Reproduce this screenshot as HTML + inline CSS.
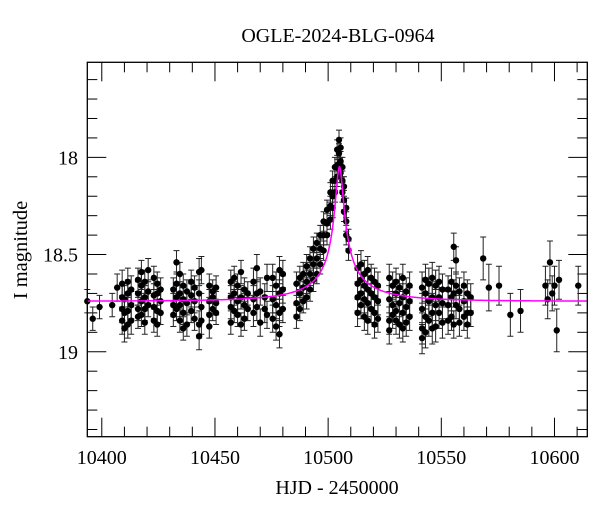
<!DOCTYPE html>
<html><head><meta charset="utf-8"><style>
html,body{margin:0;padding:0;background:#fff;}
svg{display:block;font-family:"Liberation Serif",serif;}
</style></head><body>
<svg id="chart" width="600" height="512" viewBox="0 0 600 512" xmlns="http://www.w3.org/2000/svg">
<text x="338" y="42" text-anchor="middle" font-size="20">OGLE-2024-BLG-0964</text>
<text x="337" y="494" text-anchor="middle" font-size="20">HJD - 2450000</text>
<text transform="translate(27,250) rotate(-90)" text-anchor="middle" font-size="20.5">I magnitude</text>
<g id="axes"></g>
<g id="errs"></g>
<g id="pts"></g>
<g id="model"></g>
<rect x="87.3" y="62.3" width="500" height="374.4" fill="none" stroke="#000" stroke-width="1.3"/>
</svg>
<script>
const xTicks=[10400,10450,10500,10550,10600];
const yTicks=[18,18.5,19];
const yTickLabels=["18","18.5","19"];
const epochs=[10393.6,10396,10399,10404.6,10406.8,10409,10410,10411.5,10413,10416,10417.5,10419,10420.5,10423,10424.5,10426,10431.6,10433,10434.5,10436,10437.6,10439.5,10441,10443,10444,10447.5,10449,10450.5,10457,10458.5,10460,10461.5,10463,10464.5,10467,10468.5,10470,10472,10473,10475.5,10477,10478.5,10480,10486,10487.5,10489,10490.5,10492,10493.5,10495,10496.5,10498,10499.5,10501,10502,10503,10504,10504.8,10505.5,10506.3,10507,10508,10509,10513,10514.5,10516,10517.5,10519,10520.5,10522,10527,10528.5,10530,10531.5,10533,10534.5,10536,10541.5,10543,10544.5,10546,10547.5,10549,10550.5,10553,10554.5,10555.5,10556.5,10558,10560,10561.5,10563,10568.5,10571,10575.5,10580.5,10585,10596,10597,10598,10599,10600,10601,10602,10610.5];
const epochMags=[[18.74],[18.83],[18.77],[18.76],[18.67],[18.65,18.84,18.72,18.78],[18.73,18.88,18.8],[18.86,18.7,18.64,18.79],[18.84,18.76,18.68],[18.7,18.78,18.82,18.63],[18.66,18.74,18.81,18.59],[18.72,18.85,18.64,18.78],[18.58,18.69,18.76],[18.62,18.71,18.84,18.77],[18.65,18.79,18.7,18.86],[18.74,18.68,18.8],[18.68,18.76,18.81],[18.54,18.65,18.72,18.78],[18.6,18.7,18.84,18.76],[18.66,18.73,18.88,18.8],[18.69,18.75,18.86],[18.64,18.71,18.79],[18.67,18.74,18.83],[18.59,18.7,18.86,18.92],[18.58,18.77,18.84],[18.66,18.74,18.81,18.87],[18.69,18.72,18.78],[18.67,18.75,18.8],[18.64,18.72,18.85,18.77],[18.62,18.7,18.79],[18.66,18.74,18.81],[18.59,18.72,18.86],[18.68,18.76,18.83],[18.7,18.78],[18.64,18.73,18.8],[18.57,18.7,18.77],[18.69,18.85],[18.72,18.78],[18.62,18.81],[18.62,18.73,18.83],[18.66,18.76,18.87],[18.58,18.7,18.8,18.91],[18.6,18.68,18.78],[18.65,18.75,18.82],[18.62,18.7,18.78],[18.6,18.67,18.74],[18.56,18.64,18.72],[18.52,18.6,18.68],[18.47,18.55,18.63],[18.44,18.52,18.6],[18.4,18.47,18.55],[18.33,18.4,18.48],[18.27,18.34,18.4],[18.18,18.25,18.32],[18.12,18.2,18.26],[18.05,18.12,18.18],[17.96,18.04,18.1],[17.91,17.98,18.06],[17.95,18.02,18.08],[18.05,18.12,18.18],[18.15,18.22,18.28],[18.26,18.33,18.4],[18.42,18.48],[18.57,18.65,18.72,18.8],[18.55,18.63,18.7,18.76],[18.6,18.66,18.73,18.82],[18.58,18.68,18.75,18.84],[18.62,18.7,18.78],[18.64,18.72,18.8,18.86],[18.66,18.74,18.83],[18.62,18.73,18.84,18.89],[18.66,18.76,18.81],[18.64,18.7,18.79,18.84],[18.67,18.75,18.86],[18.62,18.72,18.8,18.88],[18.69,18.77,18.85],[18.66,18.74,18.82],[18.67,18.78,18.88,18.93],[18.63,18.7,18.82,18.9],[18.65,18.74,18.84],[18.62,18.72,18.8,18.88],[18.66,18.76,18.87],[18.64,18.72,18.8],[18.68,18.75,18.85],[18.68,18.76,18.84],[18.64,18.72,18.82],[18.46,18.7,18.86],[18.53,18.66,18.76],[18.69,18.78,18.85],[18.66,18.74,18.82],[18.7,18.8,18.86],[18.72,18.8],[18.52],[18.67],[18.66],[18.81],[18.79],[18.66],[18.73],[18.54],[18.7],[18.66],[18.89],[18.63],[18.66]];
const epochErrs=[0.06,0.06,0.06,0.06,0.07,0.07,0.07,0.07,0.07,0.06,0.06,0.06,0.06,0.06,0.06,0.06,0.06,0.06,0.06,0.06,0.06,0.06,0.06,0.07,0.07,0.06,0.06,0.06,0.06,0.06,0.06,0.06,0.06,0.06,0.07,0.07,0.07,0.07,0.07,0.07,0.07,0.07,0.07,0.06,0.06,0.06,0.06,0.06,0.06,0.05,0.05,0.05,0.05,0.05,0.05,0.05,0.05,0.05,0.05,0.05,0.05,0.05,0.05,0.07,0.07,0.07,0.07,0.07,0.07,0.07,0.07,0.07,0.07,0.07,0.07,0.07,0.07,0.08,0.08,0.08,0.08,0.08,0.08,0.08,0.07,0.07,0.07,0.07,0.07,0.07,0.07,0.07,0.11,0.12,0.1,0.11,0.11,0.1,0.1,0.11,0.09,0.1,0.11,0.1,0.1];
const modelParams={t0:10505,u0:0.045,tE:38,fs:0.042,base:18.74};

const NS="http://www.w3.org/2000/svg";
const X0=87.3,X1=587.3,Y0=62.3,Y1=436.7;
const xMin=10393.6,xMax=10614.5,yMin=17.511,yMax=19.437;
const sx=t=>X0+(t-xMin)/(xMax-xMin)*(X1-X0);
const sy=m=>Y0+(m-yMin)/(yMax-yMin)*(Y1-Y0);
function mk(tag,attrs,parent){const e=document.createElementNS(NS,tag);for(const k in attrs)e.setAttribute(k,attrs[k]);parent.appendChild(e);return e;}
const axes=document.getElementById('axes');
for(let t=10400;t<=10610;t+=10){
  const major=(t%50===0);const L=major?19:10;const x=sx(t);
  const a=mk('line',{x1:x,x2:x,y1:Y1,y2:Y1-L,stroke:'#000','stroke-width':1},axes);
  
  const b=mk('line',{x1:x,x2:x,y1:Y0,y2:Y0+L,stroke:'#000','stroke-width':1},axes);
  
}
xTicks.forEach(t=>{
  const tx=mk('text',{x:sx(t),y:464,'text-anchor':'middle','font-size':20},axes);
  tx.textContent=String(t);
  
});
for(let i=0;i<=18;i++){
  const m=17.6+i*0.1;const major=(i%5===4);const L=major?19:10;const y=sy(m);
  const a=mk('line',{x1:X0,x2:X0+L,y1:y,y2:y,stroke:'#000','stroke-width':1},axes);
  
  const b=mk('line',{x1:X1,x2:X1-L,y1:y,y2:y,stroke:'#000','stroke-width':1},axes);
  
}
yTicks.forEach((m,i)=>{
  const tx=mk('text',{x:78,y:sy(m)+7,'text-anchor':'end','font-size':20},axes);
  tx.textContent=yTickLabels[i];
  
});
const eg=document.getElementById('errs'),pg=document.getElementById('pts');
epochs.forEach((t,i)=>{
  const x=sx(t),e=epochErrs[i];
  epochMags[i].forEach(m=>{
    const yt=sy(m-e),yb=sy(m+e);
    const p=mk('path',{d:`M${x},${yt}V${yb}M${x-3},${yt}H${x+3}M${x-3},${yb}H${x+3}`,stroke:'#222','stroke-width':1,fill:'none'},eg);
    
    const c=mk('circle',{cx:x,cy:sy(m),r:3.2,fill:'#000'},pg);
    
  });
});
const P=modelParams;let d='';
for(let px=X0;px<=X1;px+=0.5){
  const t=xMin+(px-X0)/(X1-X0)*(xMax-xMin);
  const tau=(t-P.t0)/P.tE;const u=Math.sqrt(P.u0*P.u0+tau*tau);
  const A=(u*u+2)/(u*Math.sqrt(u*u+4));
  const m=P.base-2.5*Math.log10(P.fs*A+1-P.fs);
  d+=(d?'L':'M')+px.toFixed(1)+','+sy(m).toFixed(2);
}
const ml=mk('path',{d:d,stroke:'#ff00ff','stroke-width':1.5,fill:'none'},document.getElementById('model'));


</script>
</body></html>
